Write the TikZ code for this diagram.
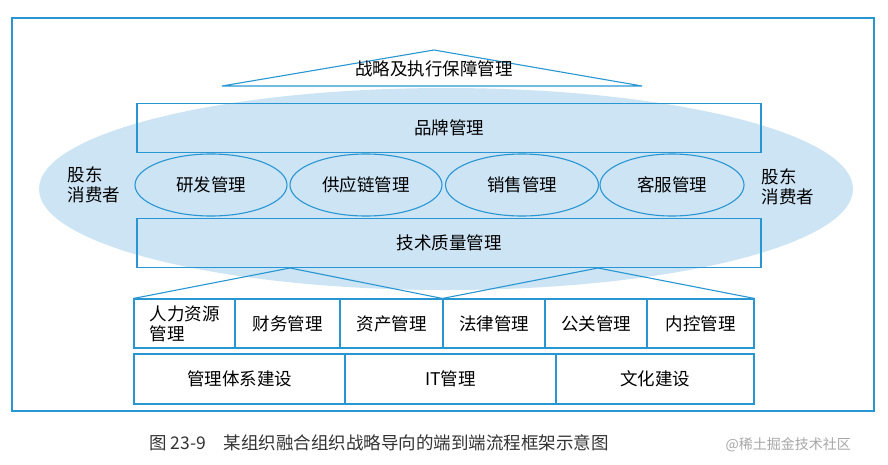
\documentclass[tikz,border=0pt]{standalone}
\usepackage{fontspec}
\usetikzlibrary{shapes.geometric}
\newfontfamily\cjk{Noto Sans CJK SC}
\definecolor{ln}{RGB}{40,150,210}
\definecolor{fl}{RGB}{205,228,245}
\begin{document}
\begin{tikzpicture}[x=1pt,y=-1pt,font=\cjk\fontsize{17.5}{20}\selectfont,
  ln/.style={draw=ln,line width=1.1pt},
  bx/.style={ln,rectangle,inner sep=0pt},
  ov/.style={ln,ellipse,inner sep=0pt}]
\useasboundingbox (0,0) rectangle (888,464);
\draw[ln] (12,18) rectangle (874,411);
\fill[fl] (446,189) ellipse [x radius=407,y radius=101];
\draw[ln] (222,86) coordinate (tl) -- (434,50) coordinate (ta) -- (642,86) coordinate (tr) -- cycle;
\node at (434,69) {战略及执行保障管理};
\node[bx,minimum width=624,minimum height=49] (brand) at (449,128) {品牌管理};
\node[bx,minimum width=624,minimum height=49] (tech) at (449,243) {技术质量管理};
\foreach \n/\x/\w/\t in {a/211/152/研发管理,b/366/152/供应链管理,c/522/153/销售管理,d/672/144/客服管理}
  \node[ov,minimum width=\w,minimum height=62] (\n) at (\x,185) {\t};
\node[align=left] (l) at (94,185) {股东\\消费者};
\node[align=left] (r) at (788,187) {股东\\消费者};
\foreach \a/\b/\t [count=\i] in {134/235/{},235/340/财务管理,340/443/资产管理,443/545/法律管理,545/647/公关管理,647/754/内控管理}
  \node[bx,minimum width=\b-\a,minimum height=49] (p\i) at ({(\a+\b)/2},323.5) {\t};
\node[align=left] at (184.5,323.5) {人力资源\\管理};
\foreach \a/\b/\t [count=\i] in {134/345/管理体系建设,345/556/IT管理,556/754/文化建设}
  \node[bx,minimum width=\b-\a,minimum height=50] (q\i) at ({(\a+\b)/2},379) {\t};
\draw[ln] (p1.north west) -- (290,268) -- (p4.north west) -- (598,268) -- (p6.north east);
\node[anchor=west,text=black!80] (cap) at (146,443) {图 23-9\quad 某组织融合组织战略导向的端到端流程框架示意图};
\node[anchor=west,text=black!35,font=\cjk\fontsize{14}{16}\selectfont] (wm) at (722,445) {@稀土掘金技术社区};
\end{tikzpicture}
\end{document}
